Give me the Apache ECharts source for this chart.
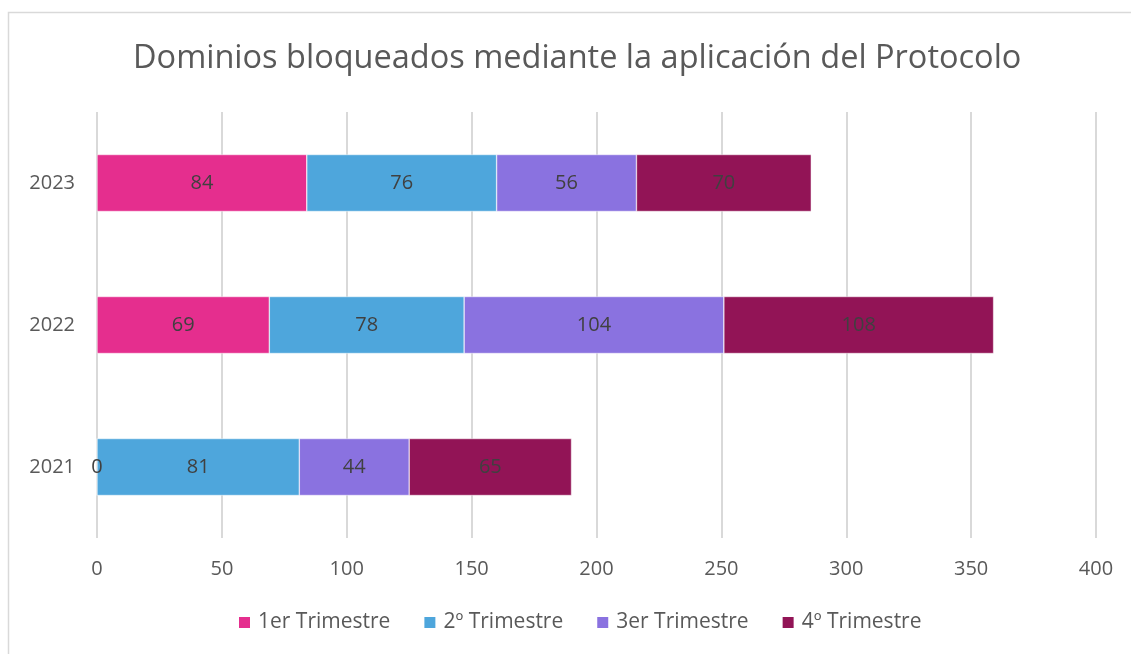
<!DOCTYPE html>
<html><head><meta charset="utf-8">
<script src="https://cdn.jsdelivr.net/npm/echarts@6/dist/echarts.min.js"></script>
<style>html,body{margin:0;padding:0;background:#fff}#c{width:1131px;height:654px}</style>
</head><body><div id="c"></div>
<script>
const title = "Dominios bloqueados mediante la aplicación del Protocolo";
const categories = ["2021", "2022", "2023"];
const seriesNames = ["1er Trimestre", "2º Trimestre", "3er Trimestre", "4º Trimestre"];
const q1 = [0, 69, 84];
const q2 = [81, 78, 76];
const q3 = [44, 104, 56];
const q4 = [65, 108, 70];
const xTicks = [0, 50, 100, 150, 200, 250, 300, 350, 400];
const colors = ["#E52E8E", "#4EA6DC", "#8A72E0", "#921456"];
const FONT = "Open Sans";
const values = [q1, q2, q3, q4];
const chart = echarts.init(document.getElementById('c'));
chart.setOption({
  animation: false,
  textStyle: {fontFamily: FONT},
  graphic: [{type: 'rect', shape: {x: 8.5, y: 12.5, width: 1200, height: 700}, style: {fill: 'none', stroke: '#d9d9d9', lineWidth: 1.5}, silent: true}],
  title: {text: title, left: 128, top: 37, textStyle: {fontFamily: FONT, fontSize: 32.5, fontWeight: 'normal', color: '#595959'}},
  legend: {bottom: 16, left: 232, itemWidth: 13, itemHeight: 13, itemGap: 32, icon: 'rect',
    textStyle: {fontFamily: FONT, fontSize: 21, color: '#595959', padding: [0, 0, 0, 2]}, data: seriesNames},
  grid: {left: 97, right: 35, top: 112, bottom: 116},
  xAxis: {type: 'value', min: xTicks[0], max: xTicks[xTicks.length - 1], interval: 50,
    axisLine: {show: false}, axisTick: {show: false},
    splitLine: {lineStyle: {color: '#d9d9d9', width: 2}},
    axisLabel: {fontFamily: FONT, fontSize: 20, color: '#595959', margin: 21}},
  yAxis: {type: 'category', data: categories, axisLine: {show: false}, axisTick: {show: false},
    axisLabel: {fontFamily: FONT, fontSize: 20, color: '#595959', margin: 22}},
  series: seriesNames.map((n, i) => ({
    name: n, type: 'bar', stack: 'total', barWidth: 57, data: values[i],
    itemStyle: {color: colors[i], borderColor: '#ffffff', borderWidth: 0.5},
    label: {show: true, position: 'inside', fontFamily: FONT, fontSize: 20, color: '#404040'}
  }))
});
</script></body></html>
